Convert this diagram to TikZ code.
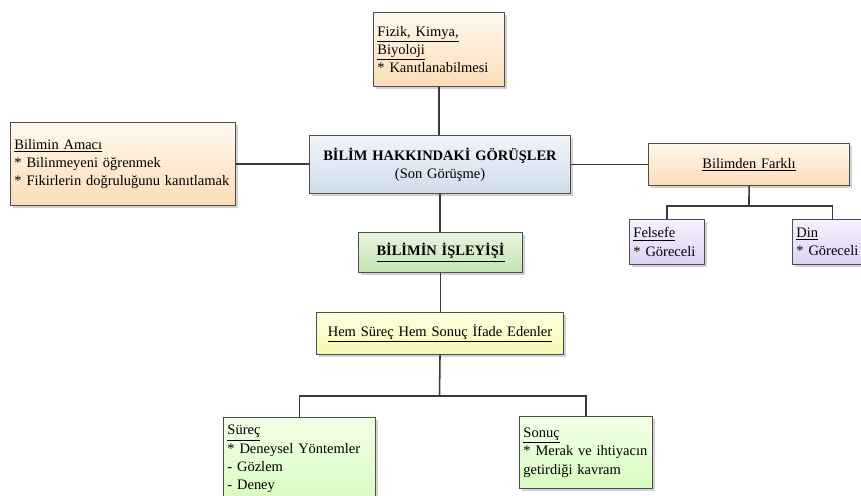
\documentclass[tikz,border=0pt]{standalone}
\usepackage{fontspec}
\setmainfont{Liberation Serif}
\usetikzlibrary{shadows}
\definecolor{bordergray}{HTML}{4D4D4D}
\definecolor{linegray}{HTML}{3A3A3A}
\definecolor{peachT}{HTML}{FFF8EE}
\definecolor{peachB}{HTML}{FBDDB6}
\definecolor{blueT}{HTML}{F0F4FA}
\definecolor{blueB}{HTML}{D0DCEC}
\definecolor{greenT}{HTML}{E8F5E0}
\definecolor{greenB}{HTML}{C4E3B2}
\definecolor{yelT}{HTML}{FFFFE2}
\definecolor{yelB}{HTML}{F6F6B2}
\definecolor{purT}{HTML}{F7F2FF}
\definecolor{purB}{HTML}{DDD1F2}
\definecolor{lgrT}{HTML}{F3FFE8}
\definecolor{lgrB}{HTML}{D8FCC0}
\tikzset{
  boxbase/.style={draw=bordergray, line width=0.75pt,
    drop shadow={shadow xshift=2pt, shadow yshift=-2pt, fill=black!35, opacity=0.5},
    inner xsep=2.8pt, inner ysep=0pt, anchor=north west,
    font=\fontsize{10.3}{13}\selectfont},
  peach/.style={top color=peachT, bottom color=peachB},
  bluebox/.style={top color=blueT, bottom color=blueB},
  greenbox/.style={top color=greenT, bottom color=greenB},
  yelbox/.style={top color=yelT, bottom color=yelB},
  purbox/.style={top color=purT, bottom color=purB},
  lgrbox/.style={top color=lgrT, bottom color=lgrB},
  conn/.style={draw=linegray, line width=1.1pt},
}
\newcommand{\bw}[1]{#1*0.025cm}
\begin{document}
\begin{tikzpicture}[x=0.025cm, y=-0.025cm]
\useasboundingbox (0,0) rectangle (861,495);
\clip (0,0) rectangle (861,495);
% nodes
\node[boxbase, peach, minimum width=\bw{131}, minimum height=\bw{74}, text width=\bw{131}-5.6pt, align=left] (fizik) at (373,12)
  {\underline{Fizik, Kimya,}\\\underline{Biyoloji}\\{*} Kanıtlanabilmesi};
\node[boxbase, peach, minimum width=\bw{225}, minimum height=\bw{83}, text width=\bw{225}-5.6pt, align=left] (amac) at (10,122)
  {\underline{Bilimin Amacı}\\{*} Bilinmeyeni öğrenmek\\{*} Fikirlerin doğruluğunu kanıtlamak};
\node[boxbase, bluebox, minimum width=\bw{261}, minimum height=\bw{58}, text width=\bw{261}-5.6pt, align=center] (bilim) at (309,135)
  {\textbf{BİLİM HAKKINDAKİ GÖRÜŞLER}\\(Son Görüşme)};
\node[boxbase, peach, minimum width=\bw{201}, minimum height=\bw{42}, text width=\bw{201}-5.6pt, align=center] (farkli) at (648,143)
  {\underline{Bilimden Farklı}};
\node[boxbase, purbox, minimum width=\bw{75}, minimum height=\bw{45}, text width=\bw{75}-5.6pt, align=left] (felsefe) at (629,219)
  {\underline{Felsefe}\\{*} Göreceli};
\node[boxbase, purbox, minimum width=\bw{80}, minimum height=\bw{45}, text width=\bw{80}-5.6pt, align=left] (din) at (792,219)
  {\underline{Din}\\{*} Göreceli};
\node[boxbase, greenbox, minimum width=\bw{164}, minimum height=\bw{40}, text width=\bw{164}-5.6pt, align=center] (isleyis) at (358,232)
  {\underline{\textbf{BİLİMİN İŞLEYİŞİ}}};
\node[boxbase, yelbox, minimum width=\bw{247}, minimum height=\bw{42}, text width=\bw{247}-5.6pt, align=center] (hem) at (316,312)
  {\underline{Hem Süreç Hem Sonuç İfade Edenler}};
\node[boxbase, lgrbox, minimum width=\bw{152}, minimum height=\bw{83}, text width=\bw{152}-5.6pt, align=left] (surec) at (223,417)
  {\underline{Süreç}\\{*} Deneysel Yöntemler\\- Gözlem\\- Deney};
\node[boxbase, lgrbox, minimum width=\bw{133}, minimum height=\bw{72}, text width=\bw{133}-5.6pt, align=left] (sonuc) at (519,416)
  {\underline{Sonuç}\\{*} Merak ve ihtiyacın\\getirdiği kavram};
% junctions
\coordinate (j1) at (439.5,396);
\coordinate (j2) at (749,206);
% connectors
\draw[conn] (fizik.south) -- (fizik.south |- bilim.north);
\draw[conn] (amac.east) -- (amac.east -| bilim.west);
\draw[conn] (bilim.east) -- (farkli.west);
\draw[conn] (bilim.south) -- (bilim.south |- isleyis.north);
\draw[conn] (isleyis.south) -- (isleyis.south |- hem.north);
\draw[conn] (hem.south) -- (j1);
\draw[conn] (surec.north) |- (j1) -| (sonuc.north);
\draw[conn] (farkli.south) -- (j2);
\draw[conn] (felsefe.north) |- (j2) -| (din.north);
\end{tikzpicture}
\end{document}
